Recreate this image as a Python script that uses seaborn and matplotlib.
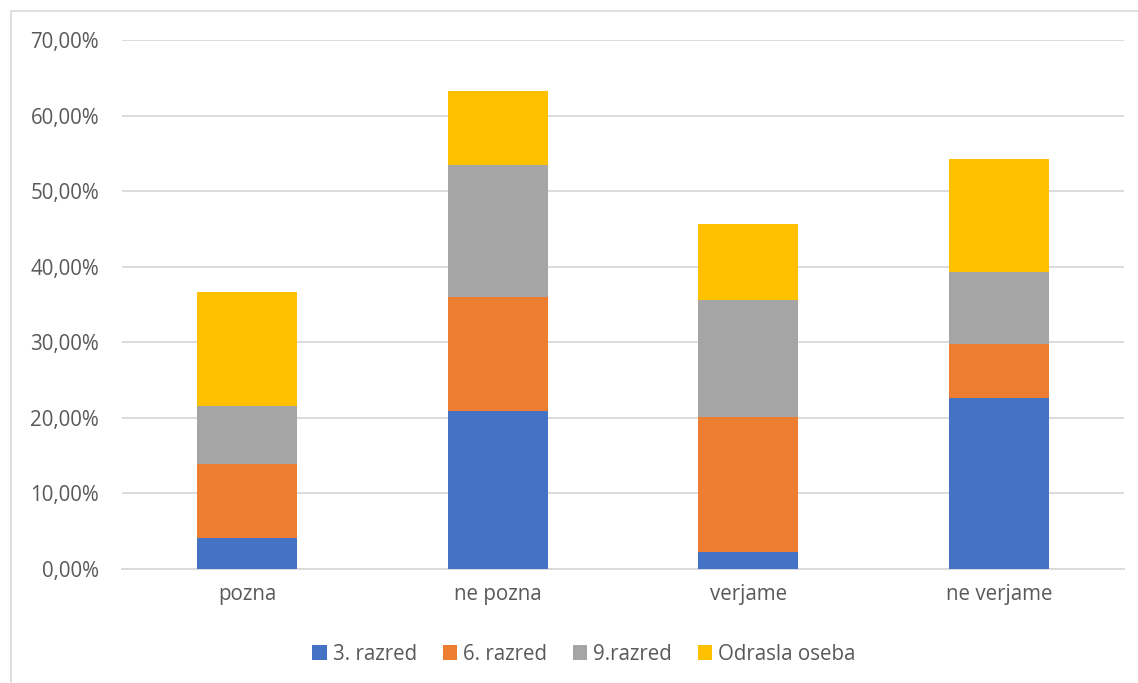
import matplotlib
matplotlib.use("Agg")
import matplotlib.pyplot as plt
import seaborn as sns
import numpy as np
import pandas as pd
from matplotlib.patches import Patch, Rectangle
from matplotlib.ticker import FuncFormatter

categories = ["pozna", "ne pozna", "verjame", "ne verjame"]
series_names = ["3. razred", "6. razred", "9.razred", "Odrasla oseba"]
razred3 = [4.05, 20.9, 2.3, 22.6]
razred6 = [9.85, 15.15, 17.85, 7.15]
razred9 = [7.7, 17.35, 15.5, 9.5]
odrasla = [15.0, 9.85, 10.0, 14.95]
colors = ["#4472C4", "#ED7D31", "#A5A5A5", "#FFC000"]

sns.set_theme(style="white")
plt.rcParams['font.family'] = ['Open Sans', 'DejaVu Sans']

fig = plt.figure(figsize=(11.38, 6.83), dpi=100)
ax = fig.add_axes([122/1138, 1-569/683, (1124-122)/1138, (569-40)/683])

values = [razred3, razred6, razred9, odrasla]
cum = np.cumsum(np.array(values), axis=0)
df = pd.DataFrame({"kat": categories})
for i in range(len(series_names) - 1, -1, -1):
    df["v"] = cum[i]
    sns.barplot(data=df, x="kat", y="v", color=colors[i], width=0.4,
                saturation=1, ax=ax, zorder=3, edgecolor="none")

ax.set_ylim(0, 70)
ax.set_xlim(-0.5, 3.5)
ax.set_yticks(np.arange(0, 71, 10))
ax.yaxis.set_major_formatter(FuncFormatter(lambda v, p: f"{v:.2f}".replace(".", ",") + "%"))
ax.grid(axis="y", color="#d9d9d9", linewidth=1.3, zorder=0)
ax.set_axisbelow(True)
for s in ["top", "right", "left"]:
    ax.spines[s].set_visible(False)
ax.spines["bottom"].set_color("#d9d9d9")
ax.spines["bottom"].set_linewidth(1.3)
ax.tick_params(axis="both", length=0, labelsize=14.8, colors="#595959")
ax.tick_params(axis="y", pad=16.5)
ax.tick_params(axis="x", pad=11)
ax.set_xlabel("")
ax.set_ylabel("")

handles = [Patch(facecolor=c, edgecolor="none") for c in colors]
fig.legend(handles, series_names, loc="center", bbox_to_anchor=(584/1138, 1-654/683),
           ncol=4, frameon=False, fontsize=14.8, handlelength=0.7, handleheight=0.7,
           handletextpad=0.3, columnspacing=1.25, labelcolor="#595959")

fig.patches.append(Rectangle((11/1138, -0.01), 1.0, 1-11/683 + 0.01, transform=fig.transFigure,
                             fill=False, edgecolor="#d9d9d9", linewidth=1.2))

fig.savefig("out.png", dpi=100)
